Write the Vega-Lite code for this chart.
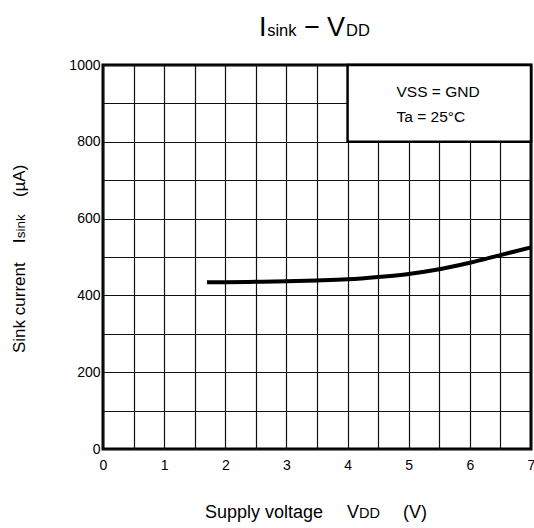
{
  "$schema": "https://vega.github.io/schema/vega-lite/v6.json",
  "width": 428,
  "height": 384,
  "autosize": "none",
  "padding": {"left": 103, "top": 65, "right": 3, "bottom": 79},
  "background": "white",
  "config": {
    "font": "Liberation Sans",
    "view": {"stroke": "black", "strokeWidth": 3},
    "axis": {
      "domain": false,
      "ticks": false,
      "grid": true,
      "gridColor": "#111111",
      "gridWidth": 1.2,
      "gridOpacity": 1,
      "labelFont": "Liberation Sans",
      "labelFontSize": 14,
      "labelColor": "black",
      "labelOverlap": false,
      "labelFlush": false
    },
    "axisX": {"labelPadding": 9},
    "axisY": {"labelPadding": 3},
    "text": {"font": "Liberation Sans", "color": "black", "align": "left", "baseline": "alphabetic"}
  },
  "layer": [
    {
      "data": {"values": [{"x0": 4, "x1": 7, "y0": 800, "y1": 1000}]},
      "mark": {"type": "rect", "fill": "white", "stroke": "black", "strokeWidth": 2.5},
      "encoding": {
        "x": {"field": "x0", "type": "quantitative", "scale": {"domain": [0, 7], "nice": false, "zero": false}, "title": null,
          "axis": {"values": [0, 0.5, 1, 1.5, 2, 2.5, 3, 3.5, 4, 4.5, 5, 5.5, 6, 6.5, 7], "labelExpr": "datum.value % 1 === 0 ? '' + datum.value : ''"}},
        "x2": {"field": "x1"},
        "y": {"field": "y0", "type": "quantitative", "scale": {"domain": [0, 1000], "nice": false}, "title": null,
          "axis": {"values": [0, 100, 200, 300, 400, 500, 600, 700, 800, 900, 1000], "labelExpr": "datum.value % 200 === 0 ? '' + datum.value : ''"}},
        "y2": {"field": "y1"}
      }
    },
    {
      "data": {"values": [
        {"vdd": 1.7, "isink": 434},
        {"vdd": 2.0, "isink": 434.5},
        {"vdd": 2.5, "isink": 435.5},
        {"vdd": 3.0, "isink": 437},
        {"vdd": 3.5, "isink": 439},
        {"vdd": 4.0, "isink": 442},
        {"vdd": 4.5, "isink": 448},
        {"vdd": 5.0, "isink": 456},
        {"vdd": 5.5, "isink": 468},
        {"vdd": 6.0, "isink": 485},
        {"vdd": 6.5, "isink": 505},
        {"vdd": 7.0, "isink": 525}
      ]},
      "mark": {"type": "line", "color": "black", "strokeWidth": 4, "interpolate": "monotone"},
      "encoding": {
        "x": {"field": "vdd", "type": "quantitative", "title": null,
          "axis": {"values": [0, 0.5, 1, 1.5, 2, 2.5, 3, 3.5, 4, 4.5, 5, 5.5, 6, 6.5, 7], "labelExpr": "datum.value % 1 === 0 ? '' + datum.value : ''"}},
        "y": {"field": "isink", "type": "quantitative", "title": null,
          "axis": {"values": [0, 100, 200, 300, 400, 500, 600, 700, 800, 900, 1000], "labelExpr": "datum.value % 200 === 0 ? '' + datum.value : ''"}}
      }
    },
    {
      "data": {"values": [{"t": "VSS = GND"}]},
      "mark": {"type": "text", "fontSize": 15.5},
      "encoding": {
        "text": {"field": "t"},
        "x": {"datum": 4.8, "axis": {"values": [0, 0.5, 1, 1.5, 2, 2.5, 3, 3.5, 4, 4.5, 5, 5.5, 6, 6.5, 7], "labelExpr": "datum.value % 1 === 0 ? '' + datum.value : ''"}},
        "y": {"datum": 917, "axis": {"values": [0, 100, 200, 300, 400, 500, 600, 700, 800, 900, 1000], "labelExpr": "datum.value % 200 === 0 ? '' + datum.value : ''"}}
      }
    },
    {
      "data": {"values": [{"t": "Ta = 25°C"}]},
      "mark": {"type": "text", "fontSize": 15.5},
      "encoding": {
        "text": {"field": "t"},
        "x": {"datum": 4.8, "axis": {"values": [0, 0.5, 1, 1.5, 2, 2.5, 3, 3.5, 4, 4.5, 5, 5.5, 6, 6.5, 7], "labelExpr": "datum.value % 1 === 0 ? '' + datum.value : ''"}},
        "y": {"datum": 852, "axis": {"values": [0, 100, 200, 300, 400, 500, 600, 700, 800, 900, 1000], "labelExpr": "datum.value % 200 === 0 ? '' + datum.value : ''"}}
      }
    },
    {
      "data": {"values": [{"t": "I"}]},
      "mark": {"type": "text", "fontSize": 27},
      "encoding": {
        "text": {"field": "t"},
        "x": {"datum": 2.55, "axis": {"values": [0, 0.5, 1, 1.5, 2, 2.5, 3, 3.5, 4, 4.5, 5, 5.5, 6, 6.5, 7], "labelExpr": "datum.value % 1 === 0 ? '' + datum.value : ''"}},
        "y": {"datum": 1075, "axis": {"values": [0, 100, 200, 300, 400, 500, 600, 700, 800, 900, 1000], "labelExpr": "datum.value % 200 === 0 ? '' + datum.value : ''"}}
      }
    },
    {
      "data": {"values": [{"t": "sink"}]},
      "mark": {"type": "text", "fontSize": 16.5},
      "encoding": {
        "text": {"field": "t"},
        "x": {"datum": 2.685, "axis": {"values": [0, 0.5, 1, 1.5, 2, 2.5, 3, 3.5, 4, 4.5, 5, 5.5, 6, 6.5, 7], "labelExpr": "datum.value % 1 === 0 ? '' + datum.value : ''"}},
        "y": {"datum": 1075, "axis": {"values": [0, 100, 200, 300, 400, 500, 600, 700, 800, 900, 1000], "labelExpr": "datum.value % 200 === 0 ? '' + datum.value : ''"}}
      }
    },
    {
      "data": {"values": [{"t": "−"}]},
      "mark": {"type": "text", "fontSize": 27, "align": "center"},
      "encoding": {
        "text": {"field": "t"},
        "x": {"datum": 3.42, "axis": {"values": [0, 0.5, 1, 1.5, 2, 2.5, 3, 3.5, 4, 4.5, 5, 5.5, 6, 6.5, 7], "labelExpr": "datum.value % 1 === 0 ? '' + datum.value : ''"}},
        "y": {"datum": 1075, "axis": {"values": [0, 100, 200, 300, 400, 500, 600, 700, 800, 900, 1000], "labelExpr": "datum.value % 200 === 0 ? '' + datum.value : ''"}}
      }
    },
    {
      "data": {"values": [{"t": "V"}]},
      "mark": {"type": "text", "fontSize": 27},
      "encoding": {
        "text": {"field": "t"},
        "x": {"datum": 3.664, "axis": {"values": [0, 0.5, 1, 1.5, 2, 2.5, 3, 3.5, 4, 4.5, 5, 5.5, 6, 6.5, 7], "labelExpr": "datum.value % 1 === 0 ? '' + datum.value : ''"}},
        "y": {"datum": 1075, "axis": {"values": [0, 100, 200, 300, 400, 500, 600, 700, 800, 900, 1000], "labelExpr": "datum.value % 200 === 0 ? '' + datum.value : ''"}}
      }
    },
    {
      "data": {"values": [{"t": "DD"}]},
      "mark": {"type": "text", "fontSize": 16.5},
      "encoding": {
        "text": {"field": "t"},
        "x": {"datum": 3.974, "axis": {"values": [0, 0.5, 1, 1.5, 2, 2.5, 3, 3.5, 4, 4.5, 5, 5.5, 6, 6.5, 7], "labelExpr": "datum.value % 1 === 0 ? '' + datum.value : ''"}},
        "y": {"datum": 1075, "axis": {"values": [0, 100, 200, 300, 400, 500, 600, 700, 800, 900, 1000], "labelExpr": "datum.value % 200 === 0 ? '' + datum.value : ''"}}
      }
    },
    {
      "data": {"values": [{"t": "Supply voltage"}]},
      "mark": {"type": "text", "fontSize": 18},
      "encoding": {
        "text": {"field": "t"},
        "x": {"datum": 1.668, "axis": {"values": [0, 0.5, 1, 1.5, 2, 2.5, 3, 3.5, 4, 4.5, 5, 5.5, 6, 6.5, 7], "labelExpr": "datum.value % 1 === 0 ? '' + datum.value : ''"}},
        "y": {"datum": -180, "axis": {"values": [0, 100, 200, 300, 400, 500, 600, 700, 800, 900, 1000], "labelExpr": "datum.value % 200 === 0 ? '' + datum.value : ''"}}
      }
    },
    {
      "data": {"values": [{"t": "V"}]},
      "mark": {"type": "text", "fontSize": 18},
      "encoding": {
        "text": {"field": "t"},
        "x": {"datum": 3.991, "axis": {"values": [0, 0.5, 1, 1.5, 2, 2.5, 3, 3.5, 4, 4.5, 5, 5.5, 6, 6.5, 7], "labelExpr": "datum.value % 1 === 0 ? '' + datum.value : ''"}},
        "y": {"datum": -180, "axis": {"values": [0, 100, 200, 300, 400, 500, 600, 700, 800, 900, 1000], "labelExpr": "datum.value % 200 === 0 ? '' + datum.value : ''"}}
      }
    },
    {
      "data": {"values": [{"t": "DD"}]},
      "mark": {"type": "text", "fontSize": 14.5},
      "encoding": {
        "text": {"field": "t"},
        "x": {"datum": 4.187, "axis": {"values": [0, 0.5, 1, 1.5, 2, 2.5, 3, 3.5, 4, 4.5, 5, 5.5, 6, 6.5, 7], "labelExpr": "datum.value % 1 === 0 ? '' + datum.value : ''"}},
        "y": {"datum": -180, "axis": {"values": [0, 100, 200, 300, 400, 500, 600, 700, 800, 900, 1000], "labelExpr": "datum.value % 200 === 0 ? '' + datum.value : ''"}}
      }
    },
    {
      "data": {"values": [{"t": "(V)"}]},
      "mark": {"type": "text", "fontSize": 18},
      "encoding": {
        "text": {"field": "t"},
        "x": {"datum": 4.907, "axis": {"values": [0, 0.5, 1, 1.5, 2, 2.5, 3, 3.5, 4, 4.5, 5, 5.5, 6, 6.5, 7], "labelExpr": "datum.value % 1 === 0 ? '' + datum.value : ''"}},
        "y": {"datum": -180, "axis": {"values": [0, 100, 200, 300, 400, 500, 600, 700, 800, 900, 1000], "labelExpr": "datum.value % 200 === 0 ? '' + datum.value : ''"}}
      }
    },
    {
      "data": {"values": [{"t": "Sink current"}]},
      "mark": {"type": "text", "fontSize": 17, "angle": 270},
      "encoding": {
        "text": {"field": "t"},
        "x": {"datum": -1.276, "axis": {"values": [0, 0.5, 1, 1.5, 2, 2.5, 3, 3.5, 4, 4.5, 5, 5.5, 6, 6.5, 7], "labelExpr": "datum.value % 1 === 0 ? '' + datum.value : ''"}},
        "y": {"datum": 250, "axis": {"values": [0, 100, 200, 300, 400, 500, 600, 700, 800, 900, 1000], "labelExpr": "datum.value % 200 === 0 ? '' + datum.value : ''"}}
      }
    },
    {
      "data": {"values": [{"t": "I"}]},
      "mark": {"type": "text", "fontSize": 17, "angle": 270},
      "encoding": {
        "text": {"field": "t"},
        "x": {"datum": -1.276, "axis": {"values": [0, 0.5, 1, 1.5, 2, 2.5, 3, 3.5, 4, 4.5, 5, 5.5, 6, 6.5, 7], "labelExpr": "datum.value % 1 === 0 ? '' + datum.value : ''"}},
        "y": {"datum": 536, "axis": {"values": [0, 100, 200, 300, 400, 500, 600, 700, 800, 900, 1000], "labelExpr": "datum.value % 200 === 0 ? '' + datum.value : ''"}}
      }
    },
    {
      "data": {"values": [{"t": "sink"}]},
      "mark": {"type": "text", "fontSize": 13.5, "angle": 270},
      "encoding": {
        "text": {"field": "t"},
        "x": {"datum": -1.276, "axis": {"values": [0, 0.5, 1, 1.5, 2, 2.5, 3, 3.5, 4, 4.5, 5, 5.5, 6, 6.5, 7], "labelExpr": "datum.value % 1 === 0 ? '' + datum.value : ''"}},
        "y": {"datum": 549, "axis": {"values": [0, 100, 200, 300, 400, 500, 600, 700, 800, 900, 1000], "labelExpr": "datum.value % 200 === 0 ? '' + datum.value : ''"}}
      }
    },
    {
      "data": {"values": [{"t": "(µA)"}]},
      "mark": {"type": "text", "fontSize": 17, "angle": 270},
      "encoding": {
        "text": {"field": "t"},
        "x": {"datum": -1.276, "axis": {"values": [0, 0.5, 1, 1.5, 2, 2.5, 3, 3.5, 4, 4.5, 5, 5.5, 6, 6.5, 7], "labelExpr": "datum.value % 1 === 0 ? '' + datum.value : ''"}},
        "y": {"datum": 656, "axis": {"values": [0, 100, 200, 300, 400, 500, 600, 700, 800, 900, 1000], "labelExpr": "datum.value % 200 === 0 ? '' + datum.value : ''"}}
      }
    }
  ]
}
